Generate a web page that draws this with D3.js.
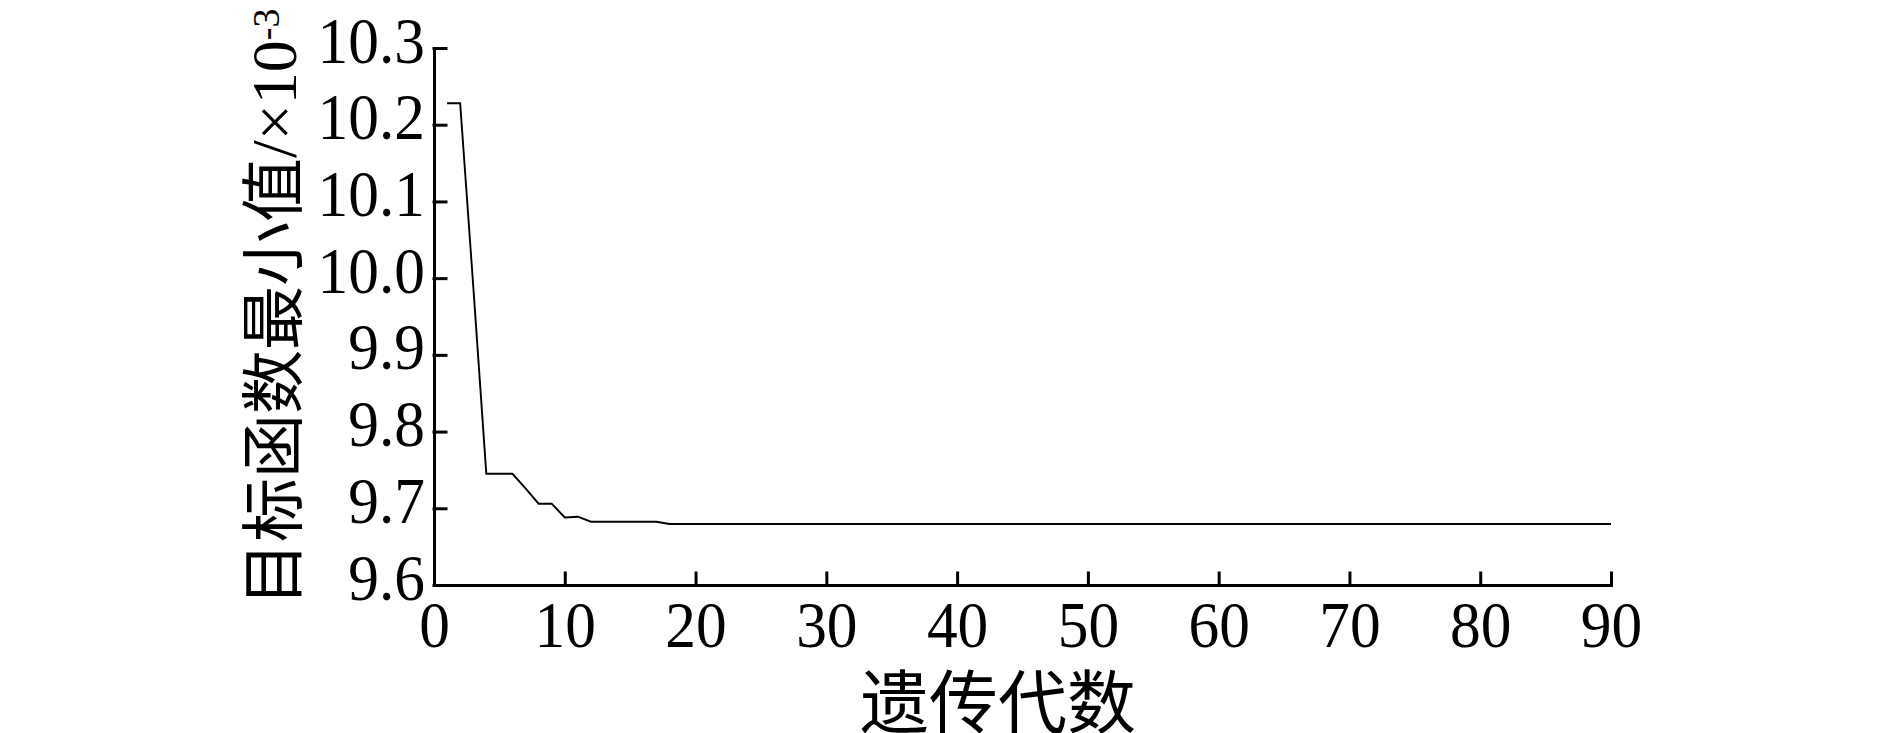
<!DOCTYPE html>
<html>
<head>
<meta charset="utf-8">
<script src="https://cdn.jsdelivr.net/npm/d3@7"></script>
<style>
  body { margin: 0; background: #fff; }
  svg { display: block; }
  .axis text { font-family: "Liberation Serif", "Times New Roman", serif; font-size: 66px; fill: #000; }
  .label { font-family: "Liberation Serif", "Noto Sans CJK SC", serif; fill: #000; }
</style>
</head>
<body>
<div id="chart"></div>
<script>
// generations where the curve changes, and the objective minimum (x 10^-3)
var generations = [1, 2, 3, 4, 5, 6, 7, 8, 9, 10, 11, 12, 17, 18, 90];
var minValues = [10.228, 10.228, 9.99, 9.745, 9.745, 9.745, 9.726, 9.706, 9.706, 9.688, 9.689, 9.6825, 9.6825, 9.6795, 9.6795];

var xTicks = [0, 10, 20, 30, 40, 50, 60, 70, 80, 90];
var yTicks = [9.6, 9.7, 9.8, 9.9, 10.0, 10.1, 10.2, 10.3];

var xLabel = "遗传代数";
var yLabel = "目标函数最小值";

var margin = {top: 48, right: 279, bottom: 148, left: 434},
    width = 1890 - margin.left - margin.right,
    height = 733 - margin.top - margin.bottom;

var sx = 0.93; // tick digits look a bit narrow in the original

var root = d3.select("#chart")
  .append("svg")
    .attr("width", 1890)
    .attr("height", 733);

var svg = root.append("g")
    .attr("transform", "translate(" + margin.left + "," + margin.top + ")");

var x = d3.scaleLinear()
    .domain([0, 90])
    .range([0, width]);

var y = d3.scaleLinear()
    .domain([9.6, 10.3])
    .range([height, 0]);

// x axis, ticks pointing up
var xAxis = svg.append("g")
    .attr("class", "axis")
    .attr("transform", "translate(0," + height + ")")
    .call(d3.axisBottom(x).tickValues(xTicks).tickSizeInner(-12).tickSizeOuter(0).tickFormat(d3.format("d")));
xAxis.selectAll("text")
    .attr("y", 62)
    .attr("dy", 0)
    .attr("transform", "scale(" + sx + ",1)");

// y axis, ticks pointing right
var yAxis = svg.append("g")
    .attr("class", "axis")
    .call(d3.axisLeft(y).tickValues(yTicks).tickSizeInner(-12).tickSizeOuter(0).tickFormat(d3.format(".1f")));
yAxis.selectAll("text")
    .attr("x", -9 / sx)
    .attr("dy", "14px")
    .attr("transform", "scale(" + sx + ",1)");

svg.selectAll(".axis path, .axis line")
    .attr("stroke", "#000")
    .attr("stroke-width", 3)
    .attr("stroke-linecap", "square");

// the curve
var pts = generations.map(function(g, i) { return [g, minValues[i]]; });
var line = d3.line()
    .x(function(d) { return x(d[0]); })
    .y(function(d) { return y(d[1]); });

svg.append("path")
    .datum(pts)
    .attr("d", line)
    .style("fill", "none")
    .style("stroke", "#000")
    .style("stroke-width", 1.9);

// axis titles
root.append("text")
    .text(xLabel)
    .attr("class", "label")
    .attr("text-anchor", "middle")
    .attr("x", 998)
    .attr("y", 728)
    .style("font-family", "'Noto Sans CJK SC', sans-serif")
    .style("font-size", "69px");

var yt = root.append("text")
    .attr("class", "label")
    .attr("transform", "translate(296,606) rotate(-90)")
    .attr("text-anchor", "start")
    .style("font-size", "64px");
yt.append("tspan")
    .text(yLabel)
    .style("font-family", "'Noto Sans CJK SC', sans-serif");
yt.append("tspan").text("/×10");
yt.append("tspan")
    .text("-3")
    .attr("dy", -17)
    .style("font-size", "38px");
</script>
</body>
</html>
